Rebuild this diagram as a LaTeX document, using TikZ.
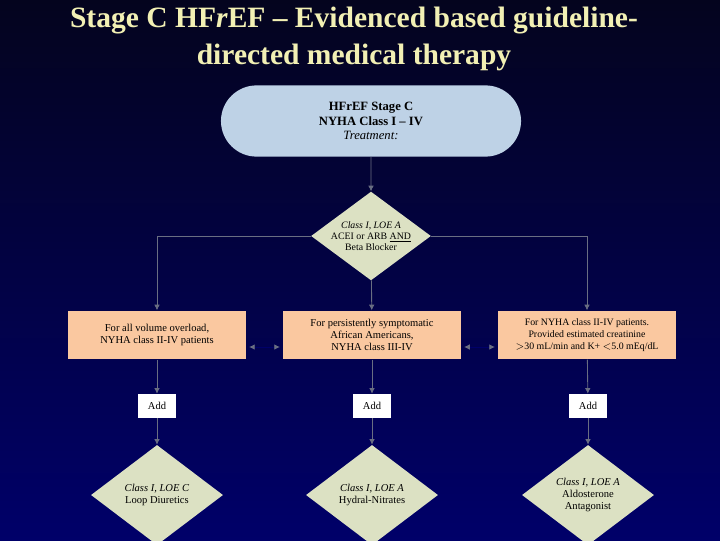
\documentclass[tikz,border=0pt]{standalone}
\usepackage{fontspec}
\setmainfont{Liberation Serif}
\usetikzlibrary{shapes.geometric,shapes.misc,arrows.meta}
\definecolor{navytop}{RGB}{4,4,30}
\definecolor{navybot}{RGB}{0,0,105}
\definecolor{titletxt}{RGB}{242,240,180}
\definecolor{pillfill}{RGB}{190,210,230}
\definecolor{diafill}{RGB}{220,225,195}
\definecolor{boxfill}{RGB}{250,200,160}
\definecolor{linegray}{RGB}{105,110,130}
\begin{document}
\begin{tikzpicture}[x=0.025cm,y=-0.025cm,
	every node/.style={inner sep=0pt, align=center, font=\fontsize{7.5}{8.5}\selectfont},
	dia/.style={diamond, fill=diafill, aspect=1.35, minimum width=2.9cm, minimum height=2.1cm, font=\fontsize{7}{8}\selectfont},
	bigdia/.style={diamond, fill=diafill, aspect=1.3, minimum width=3.3cm, minimum height=2.5cm},
	pbox/.style={rectangle, fill=boxfill, minimum width=4.45cm, minimum height=1.22cm},
	addbox/.style={rectangle, fill=white, minimum width=0.95cm, minimum height=0.6cm},
	link/.style={draw=linegray, line width=0.6pt, -{Latex[length=4pt,width=4pt]}},
	side/.style={draw=navybot, line width=0.6pt, {Latex[length=4pt,width=4pt,color=linegray]}-{Latex[length=4pt,width=4pt,color=linegray]}, shorten <=2pt, shorten >=2pt}]
	\shade [top color=navytop, bottom color=navybot] (0,0) rectangle (720,540);
	\useasboundingbox (0,0) rectangle (720,540);
	\node [text=titletxt, font=\fontsize{21}{26}\selectfont\bfseries] (title) at (354,39) {Stage C HF\textit{r}EF -- Evidenced based guideline-\\directed medical therapy};
	\node [rounded rectangle, fill=pillfill, minimum width=7.5cm, minimum height=1.78cm, font=\fontsize{9}{10.5}\selectfont] (stage) at (371,121) {\textbf{HFrEF Stage C}\\\textbf{NYHA Class I -- IV}\\\textit{Treatment:}};
	\node [dia] (acei) at (371,236) {\textit{Class I, LOE A}\\ACEI or ARB \underline{AND}\\Beta Blocker};
	\node [pbox] (volume) at (157,335) {For all volume overload,\\NYHA class II-IV patients};
	\node [pbox] (african) at (372,335) {For persistently symptomatic\\African Americans,\\NYHA class III-IV};
	\node [pbox, font=\fontsize{7}{8.5}\selectfont] (crea) at (587,335) {For NYHA class II-IV patients.\\Provided estimated creatinine\\$>$30 mL/min and K+ $<$5.0 mEq/dL};
	\node [addbox] (addl) at (157,406) {Add};
	\node [addbox] (addc) at (372,406) {Add};
	\node [addbox] (addr) at (588,406) {Add};
	\node [bigdia] (loop) at (157,495) {\textit{Class I, LOE C}\\Loop Diuretics};
	\node [bigdia] (hydral) at (372,495) {\textit{Class I, LOE A}\\Hydral-Nitrates};
	\node [bigdia] (aldo) at (588,495) {\textit{Class I, LOE A}\\Aldosterone\\Antagonist};
	\draw [link] (stage) -- (acei);
	\draw [link] (acei) -| (volume);
	\draw [link] (acei) -- (african);
	\draw [link] (acei) -| (crea);
	\draw [side] ([yshift=-0.3cm]volume.east) -- ([yshift=-0.3cm]african.west);
	\draw [side] ([yshift=-0.3cm]african.east) -- ([yshift=-0.3cm]crea.west);
	\draw [link] (volume) -- (addl);
	\draw [link] (african) -- (addc);
	\draw [link] (crea) -- (addr);
	\draw [link] (addl) -- (loop);
	\draw [link] (addc) -- (hydral);
	\draw [link] (addr) -- (aldo);
\end{tikzpicture}
\end{document}
